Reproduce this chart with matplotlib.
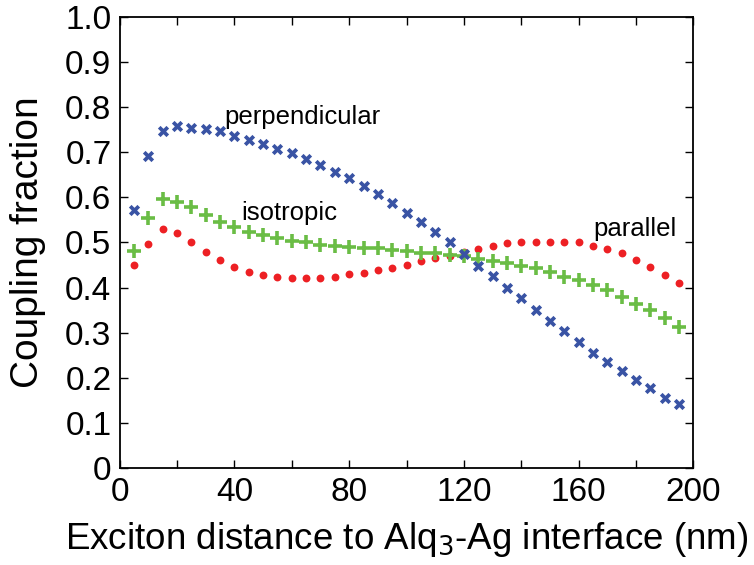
import numpy as np
import matplotlib
matplotlib.use("Agg")
import matplotlib.pyplot as plt
from matplotlib.ticker import MultipleLocator

plt.rcParams['font.family'] = ['Liberation Sans', 'DejaVu Sans']

# Data (x in nm)
distance = [5, 10, 15, 20, 25, 30, 35, 40, 45, 50, 55, 60, 65, 70, 75, 80, 85, 90, 95, 100,
            105, 110, 115, 120, 125, 130, 135, 140, 145, 150, 155, 160, 165, 170, 175, 180,
            185, 190, 195]
perpendicular = [0.572, 0.692, 0.746, 0.757, 0.753, 0.751, 0.746, 0.736, 0.727, 0.719,
                 0.707, 0.699, 0.684, 0.672, 0.657, 0.642, 0.626, 0.607, 0.587, 0.566,
                 0.546, 0.523, 0.500, 0.474, 0.449, 0.426, 0.400, 0.376, 0.350, 0.327,
                 0.304, 0.280, 0.256, 0.236, 0.215, 0.195, 0.177, 0.156, 0.142]
isotropic = [0.482, 0.554, 0.596, 0.590, 0.578, 0.561, 0.546, 0.534, 0.524, 0.517,
             0.509, 0.503, 0.501, 0.494, 0.492, 0.489, 0.487, 0.487, 0.483, 0.481,
             0.477, 0.476, 0.472, 0.469, 0.463, 0.460, 0.454, 0.449, 0.443, 0.435,
             0.424, 0.417, 0.406, 0.395, 0.380, 0.364, 0.351, 0.332, 0.312]
parallel = [0.450, 0.497, 0.531, 0.520, 0.500, 0.478, 0.461, 0.446, 0.435, 0.428,
            0.423, 0.421, 0.421, 0.421, 0.424, 0.430, 0.433, 0.439, 0.444, 0.450,
            0.459, 0.465, 0.469, 0.480, 0.486, 0.492, 0.498, 0.500, 0.502, 0.502,
            0.502, 0.500, 0.493, 0.485, 0.476, 0.461, 0.446, 0.428, 0.411]

blue = '#3953a4'
green = '#6abd45'
red = '#ed2024'

fig = plt.figure(figsize=(7.54, 5.65), dpi=100)
ax = fig.add_axes([0.1588, 0.1712, 0.7607, 0.7992])

ax.scatter(distance, parallel, marker='o', s=32, color=red, linewidths=0, zorder=3)
ax.scatter(distance, isotropic, marker='+', s=115, color=green, linewidths=2.6, zorder=4)
ax.scatter(distance, perpendicular, marker='x', s=38, color=blue, linewidths=2.7, zorder=5)

ax.text(36.5, 0.778, 'perpendicular', fontsize=18.5, va='center', ha='left')
ax.text(42.3, 0.565, 'isotropic', fontsize=18.5, va='center', ha='left')
ax.text(165, 0.530, 'parallel', fontsize=18.5, va='center', ha='left')

ax.set_xlim(0, 200)
ax.set_ylim(0, 1.0)
ax.xaxis.set_major_locator(MultipleLocator(40))
ax.xaxis.set_minor_locator(MultipleLocator(20))
ax.set_yticks(np.arange(0, 1.01, 0.1))
ax.set_yticklabels(['0'] + [f'{v:.1f}' for v in np.arange(0.1, 1.01, 0.1)])

ax.tick_params(which='both', direction='in', top=True, right=True, length=6, width=1,
               labelsize=24, pad=6)
for sp in ax.spines.values():
    sp.set_linewidth(1.3)

ax.set_xlabel('Exciton distance to Alq$_3$-Ag interface (nm)', fontsize=26.5, labelpad=9)
ax.set_ylabel('Coupling fraction', fontsize=28, labelpad=14)

fig.savefig('out.png', dpi=100)
